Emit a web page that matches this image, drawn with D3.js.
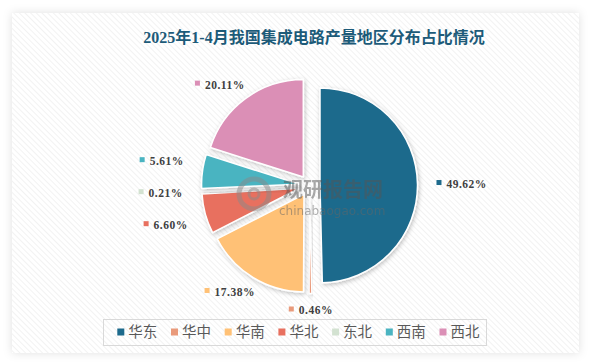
<!DOCTYPE html>
<html>
<head>
<meta charset="utf-8">
<script src="https://cdn.jsdelivr.net/npm/d3@7"></script>
<style>
  html, body { margin: 0; padding: 0; background: #fff; }
  svg { display: block; }
</style>
</head>
<body>
<svg id="chart" width="590" height="363"></svg>
<script>
// data
const regions = ["华东", "华中", "华南", "华北", "东北", "西南", "西北"];
const shares = [49.62, 0.46, 17.38, 6.60, 0.21, 5.61, 20.11];
const colors = ["#1d6a8c", "#e99a7b", "#ffc176", "#e8705f", "#d3e2d1", "#4ab4c1", "#db8fb6"];
const title = "2025年1-4月我国集成电路产量地区分布占比情况";

const rows = regions.map((r, i) => ({ region: r, value: shares[i], color: colors[i] }));

const width = 590, height = 363;
const cx = 309.5, cy = 185.5;
const radius = 97.5, explode = 10.5;
const labelRx = 127, labelRy = 119;

const svg = d3.select("#chart");
const defs = svg.append("defs");

// light diagonal hatch on the card
const pat = defs.append("pattern")
    .attr("id", "hatch")
    .attr("patternUnits", "userSpaceOnUse")
    .attr("width", 4).attr("height", 4)
    .attr("patternTransform", "rotate(-45)");
pat.append("rect").attr("width", 4).attr("height", 4).attr("fill", "#fff");
pat.append("line")
    .attr("x1", 0).attr("y1", 0).attr("x2", 0).attr("y2", 4)
    .attr("stroke", "#ededed").attr("stroke-width", 1.4);

const cardShadow = defs.append("filter").attr("id", "cardShadow")
    .attr("x", "-10%").attr("y", "-10%").attr("width", "120%").attr("height", "120%");
cardShadow.append("feDropShadow")
    .attr("dx", 0).attr("dy", 0).attr("stdDeviation", 5)
    .attr("flood-color", "#000").attr("flood-opacity", 0.12);

const sliceShadow = defs.append("filter").attr("id", "sliceShadow")
    .attr("x", "-20%").attr("y", "-20%").attr("width", "140%").attr("height", "140%");
sliceShadow.append("feDropShadow")
    .attr("dx", 1).attr("dy", 1.5).attr("stdDeviation", 2)
    .attr("flood-color", "#000").attr("flood-opacity", 0.25);

// card
svg.append("rect")
    .attr("x", 12).attr("y", 13)
    .attr("width", 567).attr("height", 340)
    .attr("fill", "url(#hatch)")
    .attr("filter", "url(#cardShadow)");

// title
svg.append("text")
    .attr("x", 314).attr("y", 43)
    .attr("text-anchor", "middle")
    .attr("font-family", "'Liberation Serif', 'Noto Sans CJK SC', serif")
    .attr("font-weight", "bold")
    .attr("font-size", 16)
    .attr("fill", "#1d5b79")
    .text(title);

// pie
const pie = d3.pie().sort(null).value(d => d.value);
const arc = d3.arc().innerRadius(0).outerRadius(radius);
const arcs = pie(rows);
const mid = d => (d.startAngle + d.endAngle) / 2;

const g = svg.append("g").attr("transform", `translate(${cx},${cy})`);

g.selectAll("path.slice")
  .data(arcs)
  .enter().append("path")
    .attr("class", "slice")
    .attr("d", arc)
    .attr("transform", d => {
      const a = mid(d);
      return `translate(${explode * Math.sin(a)},${-explode * Math.cos(a)})`;
    })
    .attr("fill", d => d.data.color)
    .attr("stroke", "#fff")
    .attr("stroke-width", 1.5)
    .attr("stroke-linejoin", "round")
    .attr("filter", "url(#sliceShadow)");

// watermark
const wm = svg.append("g").attr("opacity", 0.5);
wm.append("circle").attr("cx", 254).attr("cy", 194).attr("r", 15)
    .attr("fill", "none").attr("stroke", "#8a8a8a").attr("stroke-width", 5);
wm.append("circle").attr("cx", 254).attr("cy", 194).attr("r", 5)
    .attr("fill", "none").attr("stroke", "#8a8a8a").attr("stroke-width", 3);
wm.append("text").attr("x", 283).attr("y", 197)
    .attr("font-family", "'Noto Sans CJK SC', sans-serif").attr("font-weight", "bold")
    .attr("font-size", 20).attr("fill", "#555").text("观研报告网");
wm.append("text").attr("x", 279).attr("y", 215)
    .attr("font-family", "'DejaVu Sans', sans-serif")
    .attr("font-size", 12).attr("fill", "#666").text("chinabaogao.com");

// data labels
const labels = svg.append("g");
const boxH = 12;
const items = arcs.map(d => {
  const a = mid(d);
  const ux = Math.sin(a), uy = -Math.cos(a);
  const grp = labels.append("g");
  const t = grp.append("text")
      .attr("x", 10).attr("y", 4)
      .attr("font-family", "'Liberation Serif', serif")
      .attr("font-weight", "bold")
      .attr("font-size", 11.5)
      .attr("letter-spacing", 0.5)
      .attr("fill", "#404040")
      .text(d3.format(".2f")(d.data.value) + "%");
  grp.append("rect")
      .attr("x", 0).attr("y", -4)
      .attr("width", 5).attr("height", 5)
      .attr("fill", d.data.color);
  const w = 10 + t.node().getComputedTextLength();
  return {
    grp, w, ux,
    x: cx + labelRx * ux + ux * w / 2,
    y: cy + labelRy * uy + uy * boxH / 2
  };
});

// keep labels on the left side from crowding
const left = items.filter(d => d.ux < -0.3).sort((a, b) => a.y - b.y);
for (let k = 0; k < 60; k++) {
  for (let i = 1; i < left.length; i++) {
    const gap = left[i].y - left[i - 1].y;
    if (gap < 32) {
      const push = (32 - gap) / 2;
      left[i].y += push;
      left[i - 1].y -= push;
    }
  }
}

items.forEach(d => {
  d.grp.attr("transform", `translate(${d.x - d.w / 2},${d.y})`);
});

// legend
svg.append("rect")
    .attr("x", 103.5).attr("y", 319.5)
    .attr("width", 383).attr("height", 26)
    .attr("fill", "none")
    .attr("stroke", "#d9d9d9").attr("stroke-width", 1);

const lx = d3.scaleBand().domain(regions).range([117.3, 117.3 + 7 * 53.7]);
const leg = svg.append("g").selectAll("g")
  .data(rows)
  .enter().append("g")
    .attr("transform", d => `translate(${lx(d.region)},332)`);
leg.append("rect")
    .attr("x", 0).attr("y", -3.5)
    .attr("width", 7).attr("height", 7)
    .attr("fill", d => d.color);
leg.append("text")
    .attr("x", 11).attr("y", 5)
    .attr("font-family", "'Noto Sans CJK SC', sans-serif")
    .attr("font-size", 14.5)
    .attr("fill", "#595959")
    .text(d => d.region);
</script>
</body>
</html>
